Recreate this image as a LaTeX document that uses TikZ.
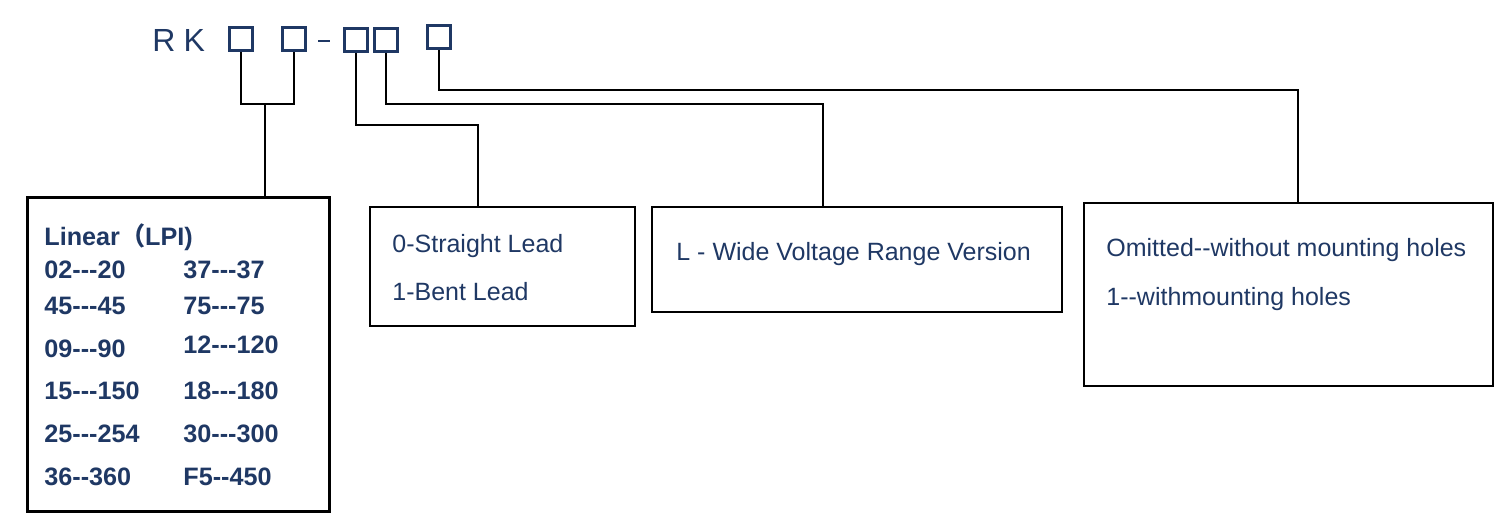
\documentclass[tikz,border=0pt]{standalone}
\usepackage{fontspec}
\setmainfont[Ligatures=TeXOff]{Liberation Sans}
\newfontfamily\cjk{Noto Sans CJK SC}
\usetikzlibrary{positioning}
\definecolor{navy}{HTML}{1F3864}
\tikzset{
  code/.style={draw=navy, line width=1.4pt, minimum size=11.5pt, inner sep=0pt},
  infobox/.style={draw=black, line width=1pt},
  lead/.style={draw=black, line width=0.8pt},
  txt/.style={anchor=west, text=navy, font=\fontsize{12.5}{14}\selectfont, inner sep=0pt},
  lpi/.style={anchor=west, text=navy, font=\bfseries\fontsize{12.6}{14}\selectfont, inner sep=0pt}
}
\begin{document}
\begin{tikzpicture}[x=0.5pt, y=-0.5pt]
\useasboundingbox (0,0) rectangle (1510,522);
% model code
\node[anchor=west, text=navy, font=\fontsize{16}{18}\selectfont, inner sep=0pt] (rk) at (152,41) {R\hspace{4pt}K};
\node[code] (c1) at (241,39) {};
\node[code] (c2) at (294,39) {};
\draw[navy, line width=1pt] (318,41) -- (330,41);
\node[code] (c3) at (356,40) {};
\node[code] (c4) at (386,40) {};
\node[code] (c5) at (439,37) {};
% boxes
\draw[infobox, line width=1.5pt] (27,198) rectangle (329,512);
\draw[infobox] (370,207) rectangle (635,326);
\draw[infobox] (652,207) rectangle (1062,312);
\draw[infobox] (1084,203) rectangle (1493,386);
% leads
\draw[lead] (c1.south) |- (265,104) coordinate (j1) -| (c2.south);
\draw[lead] (j1) -- (265,198);
\draw[lead] (c3.south) |- (478,125) -- (478,207);
\draw[lead] (c4.south) |- (823,104) -- (823,207);
\draw[lead] (c5.south) |- (1298,90) -- (1298,203);
% texts
\node[lpi] (lin) at (44,237) {Linear{\cjk（}LPI)};
\node[lpi] (a1) at (44,270) {02---20};   \node[lpi] (b1) at (183,270) {37---37};
\node[lpi] (a2) at (44,306) {45---45};   \node[lpi] (b2) at (183,306) {75---75};
\node[lpi] (a3) at (44,349) {09---90};   \node[lpi] (b3) at (183,345) {12---120};
\node[lpi] (a4) at (44,391) {15---150};  \node[lpi] (b4) at (183,391) {18---180};
\node[lpi] (a5) at (44,434) {25---254};  \node[lpi] (b5) at (183,434) {30---300};
\node[lpi] (a6) at (44,477) {36--360};   \node[lpi] (b6) at (183,477) {F5--450};
\node[txt] (s1) at (392,246) {0-Straight Lead};
\node[txt] (s2) at (392,292) {1-Bent Lead};
\node[txt] (w1) at (676,254) {L - Wide Voltage Range Version};
\node[txt] (m1) at (1106,250) {Omitted--without mounting holes};
\node[txt] (m2) at (1106,299) {1--withmounting holes};
\end{tikzpicture}
\end{document}
